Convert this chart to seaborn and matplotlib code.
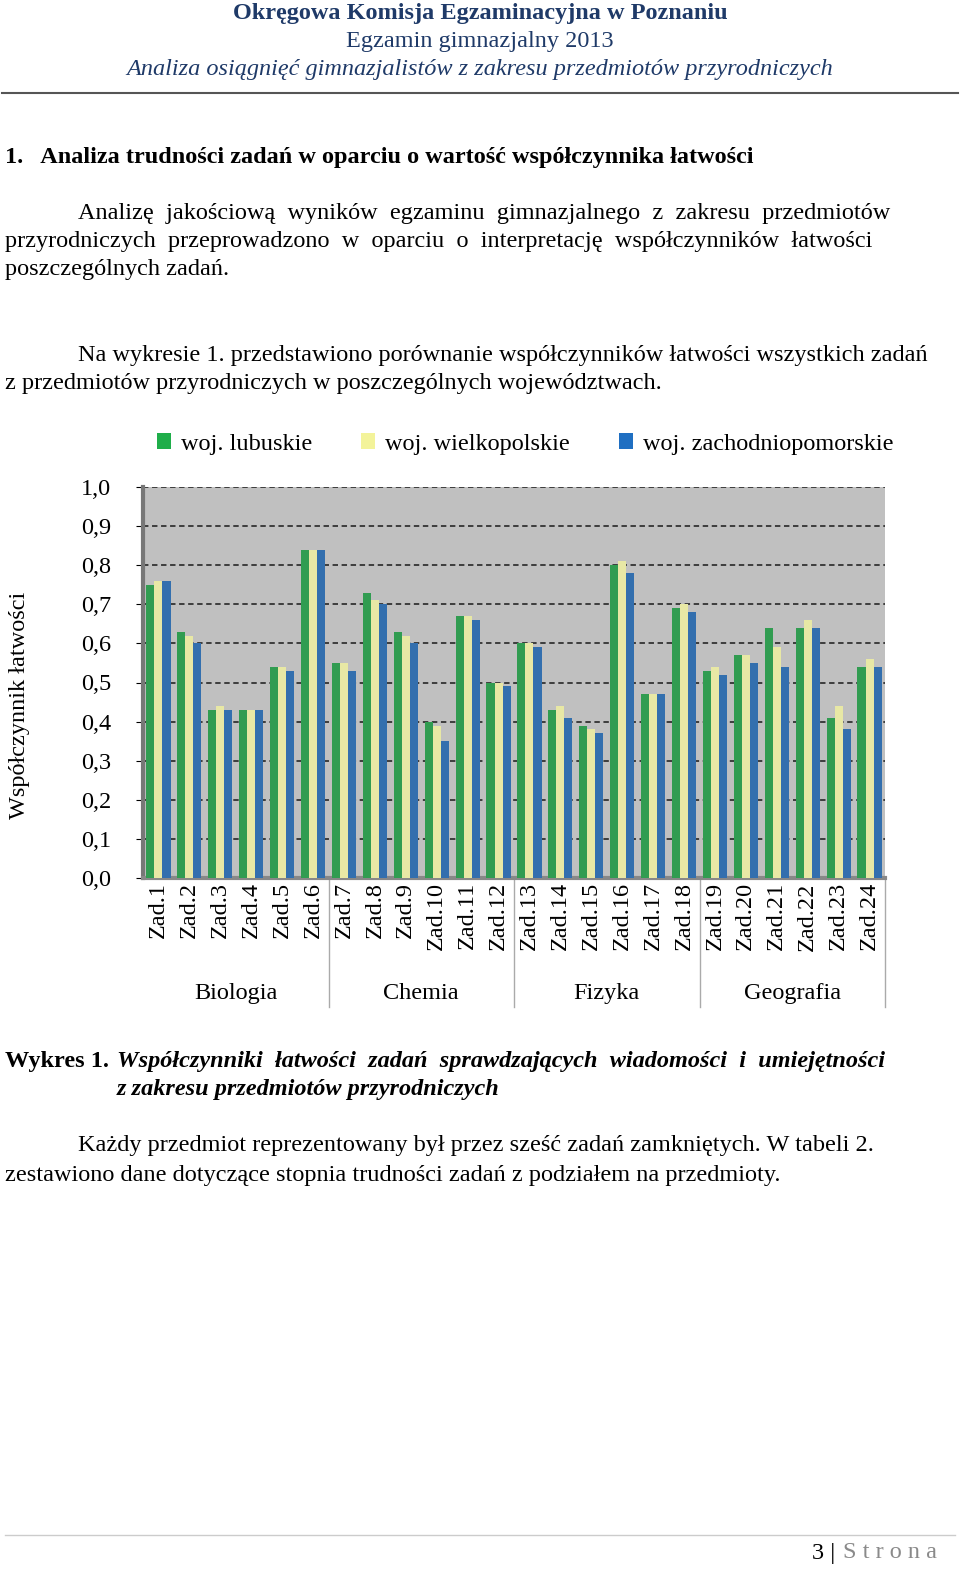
import numpy as np
import pandas as pd
import seaborn as sns
import matplotlib.pyplot as plt
from matplotlib.patches import Patch
from matplotlib.lines import Line2D

zadania = [f"Zad.{i}" for i in range(1, 25)]
lubuskie = [0.75, 0.63, 0.43, 0.43, 0.54, 0.84, 0.55, 0.73, 0.63, 0.40, 0.67, 0.50,
            0.60, 0.43, 0.39, 0.80, 0.47, 0.69, 0.53, 0.57, 0.64, 0.64, 0.41, 0.54]
wielkopolskie = [0.76, 0.62, 0.44, 0.43, 0.54, 0.84, 0.55, 0.71, 0.62, 0.39, 0.67, 0.50,
                 0.60, 0.44, 0.38, 0.81, 0.47, 0.70, 0.54, 0.57, 0.59, 0.66, 0.44, 0.56]
zachodniopomorskie = [0.76, 0.60, 0.43, 0.43, 0.53, 0.84, 0.53, 0.70, 0.60, 0.35, 0.66, 0.49,
                      0.59, 0.41, 0.37, 0.78, 0.47, 0.68, 0.52, 0.55, 0.54, 0.64, 0.38, 0.54]
serie = ["woj. lubuskie", "woj. wielkopolskie", "woj. zachodniopomorskie"]
kolory = ["#1fae4a", "#f3f39a", "#1f6fc2"]
przedmioty = ["Biologia", "Chemia", "Fizyka", "Geografia"]

df = pd.DataFrame({"zad": zadania * 3,
                   "woj": np.repeat(serie, 24),
                   "val": lubuskie + wielkopolskie + zachodniopomorskie})

plt.rcParams["font.family"] = "Liberation Serif"
FS = 17.5
fig = plt.figure(figsize=(9.6, 15.88), dpi=100)
H = 1588.0

def ty(y):
    return 1 - y / H

# naglowek
fig.text(0.5, ty(13), "Okręgowa Komisja Egzaminacyjna w Poznaniu", ha="center", va="center",
         fontsize=FS, fontweight="bold", color="#1f3a68")
fig.text(0.5, ty(41), "Egzamin gimnazjalny 2013", ha="center", va="center", fontsize=FS, color="#1f3a68")
fig.text(0.5, ty(69), "Analiza osiągnięć gimnazjalistów z zakresu przedmiotów przyrodniczych",
         ha="center", va="center", fontsize=FS, style="italic", color="#1f3a68")
fig.add_artist(Line2D([0.002, 0.998], [ty(93)] * 2, color="#555555", lw=1.5))

fig.text(5 / 960, ty(157), "1.   Analiza trudności zadań w oparciu o wartość współczynnika łatwości",
         va="center", fontsize=FS, fontweight="bold")
body = [(78, 213, "Analizę  jakościową  wyników  egzaminu  gimnazjalnego  z  zakresu  przedmiotów"),
        (5, 241, "przyrodniczych  przeprowadzono  w  oparciu  o  interpretację  współczynników  łatwości"),
        (5, 270, "poszczególnych zadań."),
        (78, 355, "Na wykresie 1. przedstawiono porównanie współczynników łatwości wszystkich zadań"),
        (5, 384, "z przedmiotów przyrodniczych w poszczególnych województwach.")]
for x, y, t in body:
    fig.text(x / 960, ty(y), t, va="center", fontsize=FS)

# wykres
ax = fig.add_axes([143 / 960, ty(878), (885 - 143) / 960, 391 / H])
ax.set_facecolor("#c0c0c0")
sns.barplot(data=df, x="zad", y="val", hue="woj", palette=kolory, width=0.78,
            ax=ax, legend=False, zorder=3)
ax.set_ylim(0, 1.0)
ax.set_xlim(-0.5, 23.5)
ax.set_yticks(np.arange(0, 1.01, 0.1))
ax.set_yticklabels([f"{v:.1f}".replace(".", ",") for v in np.arange(0, 1.01, 0.1)], fontsize=FS)
ax.yaxis.grid(True, ls=(0, (3, 2)), color="#333333", lw=1.3, zorder=0)
ax.set_xlabel("")
ax.set_ylabel("")
ax.set_xticks(range(24))
ax.set_xticklabels(zadania, rotation=90, fontsize=FS, va="top")
ax.tick_params(axis="x", length=0, pad=3)
ax.tick_params(axis="y", length=5, pad=18)
for s in ["top", "right"]:
    ax.spines[s].set_visible(False)
ax.spines["left"].set_color("#777777")
ax.spines["left"].set_linewidth(3)
ax.spines["bottom"].set_color("#888888")
ax.spines["bottom"].set_linewidth(3)

for b in [5.5, 11.5, 17.5, 23.5]:
    ax.plot([b, b], [0, -0.33], color="#aaaaaa", lw=1, clip_on=False, transform=ax.get_xaxis_transform())
for i, p in enumerate(przedmioty):
    ax.text(2.5 + 6 * i, -0.296, p, ha="center", va="center", fontsize=FS,
            transform=ax.get_xaxis_transform())

fig.text(20 / 960, ty(705), "Współczynnik łatwości", rotation=90, ha="center", va="center", fontsize=FS)

uchwyty = [Patch(facecolor=c, edgecolor="none") for c in kolory]
fig.legend(uchwyty, serie, ncol=3, loc="center", bbox_to_anchor=(525 / 960, ty(444)),
           frameon=False, fontsize=FS, handlelength=0.6, handleheight=0.6,
           handletextpad=0.4, columnspacing=2.0)

# podpis
fig.text(5 / 960, ty(1061), "Wykres 1.", va="center", fontsize=FS, fontweight="bold")
fig.text(117 / 960, ty(1061),
         "Współczynniki  łatwości  zadań  sprawdzających  wiadomości  i  umiejętności",
         va="center", fontsize=FS, fontweight="bold", style="italic")
fig.text(117 / 960, ty(1089), "z zakresu przedmiotów przyrodniczych", va="center",
         fontsize=FS, fontweight="bold", style="italic")
fig.text(78 / 960, ty(1146),
         "Każdy przedmiot reprezentowany był przez sześć zadań zamkniętych. W tabeli 2.",
         va="center", fontsize=FS)
fig.text(5 / 960, ty(1175),
         "zestawiono dane dotyczące stopnia trudności zadań z podziałem na przedmioty.",
         va="center", fontsize=FS)

# stopka
fig.add_artist(Line2D([0.005, 0.995], [ty(1535)] * 2, color="#cccccc", lw=1))
fig.text(812 / 960, ty(1553), "3 |", ha="left", va="center", fontsize=FS)
fig.text(843 / 960, ty(1553), "S t r o n a", ha="left", va="center", fontsize=FS, color="#8a8a8a")

fig.savefig("out.png", dpi=100)
plt.close(fig)
